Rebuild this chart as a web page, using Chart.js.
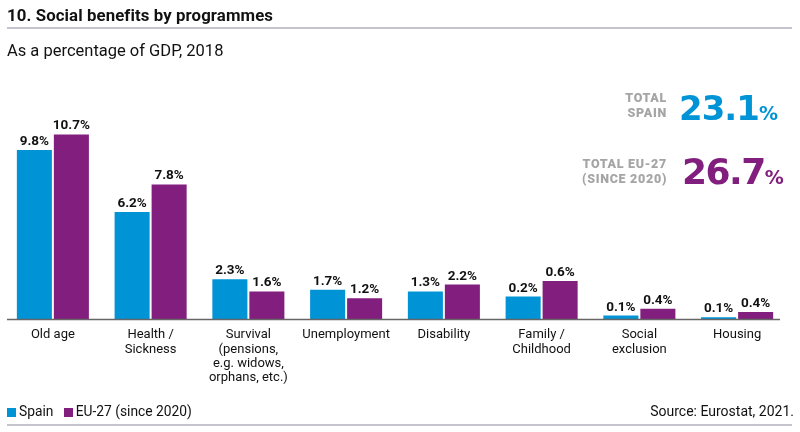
<!DOCTYPE html>
<html>
<head>
<meta charset="utf-8">
<script src="https://cdn.jsdelivr.net/npm/chart.js@4.4.0/dist/chart.umd.min.js"></script>
<style>
  html, body { margin: 0; padding: 0; background: #fff; }
  body { width: 800px; height: 432px; position: relative; overflow: hidden; font-family: Roboto, "Liberation Sans", sans-serif; color: #111; }
  #wrap { position: absolute; left: 0; top: 0; width: 800px; height: 432px; }
  .abs { position: absolute; white-space: nowrap; }
  #title { left: 7px; top: 5px; font-size: 16.8px; font-weight: 700; letter-spacing: 0.1px; }
  #rule1 { left: 7px; top: 27px; width: 785px; height: 2px; background: #c4c4cc; }
  #subtitle { left: 7px; top: 41px; font-size: 16.5px; }
  #rule2 { left: 7px; top: 424px; width: 785px; height: 2px; background: #c4c4cc; }
  .tlab { font-family: Roboto, sans-serif; font-weight: 900; color: #a5a5a5; font-size: 12.5px; letter-spacing: 0.7px; line-height: 15px; text-align: right; }
  .big { font-family: "DejaVu Sans", sans-serif; font-weight: 700; letter-spacing: -1px; }
  .pct { font-family: "DejaVu Sans", sans-serif; font-weight: 700; }
  #legend { left: 7px; top: 403px; font-size: 13.8px; }
  .sw { display: inline-block; width: 9px; height: 9px; vertical-align: -1px; margin-right: 3px; }
  #source { right: 6px; top: 403px; font-size: 14px; }
</style>
</head>
<body>
<div id="wrap"><canvas id="c" width="800" height="432"></canvas></div>
<div class="abs" id="title">10. Social benefits by programmes</div>
<div class="abs" id="rule1"></div>
<div class="abs" id="subtitle">As a percentage of GDP, 2018</div>

<div class="abs tlab" style="right:133px; top:90px;">TOTAL<br>SPAIN</div>
<div class="abs" style="left:679px; top:88px; color:#0093d6;"><span class="big" style="font-size:34px;">23.1</span><span class="pct" style="font-size:19px;">%</span></div>
<div class="abs tlab" style="right:133px; top:156px;">TOTAL EU-27<br>(SINCE 2020)</div>
<div class="abs" style="left:682px; top:151px; color:#821f7e;"><span class="big" style="font-size:36px; letter-spacing:-1.5px;">26.7</span><span class="pct" style="font-size:19px;">%</span></div>

<div class="abs" id="legend"><span class="sw" style="background:#0093d6"></span>Spain&nbsp;&nbsp;&nbsp;<span class="sw" style="background:#821f7e"></span>EU-27 (since 2020)</div>
<div class="abs" id="source">Source: Eurostat, 2021.</div>
<div class="abs" id="rule2"></div>

<script>
const categories = [
  ["Old age"],
  ["Health /", "Sickness"],
  ["Survival", "(pensions,", "e.g. widows,", "orphans, etc.)"],
  ["Unemployment"],
  ["Disability"],
  ["Family /", "Childhood"],
  ["Social", "exclusion"],
  ["Housing"]
];
const seriesNames = ["Spain", "EU-27 (since 2020)"];
// bar heights as drawn in the reference (% of GDP)
const spainValues = [9.8, 6.2, 2.3, 1.7, 1.6, 1.3, 0.2, 0.1];
const euValues    = [10.7, 7.8, 1.6, 1.2, 2.0, 2.2, 0.6, 0.4];
// value labels as printed in the reference
const spainLabels = ["9.8%", "6.2%", "2.3%", "1.7%", "1.3%", "0.2%", "0.1%", "0.1%"];
const euLabels    = ["10.7%", "7.8%", "1.6%", "1.2%", "2.2%", "0.6%", "0.4%", "0.4%"];

const BLUE = "#0093d6";
const PURPLE = "#821f7e";

const valueLabelPlugin = {
  id: "valueLabels",
  afterDatasetsDraw(chart) {
    const ctx = chart.ctx;
    const labelSets = [spainLabels, euLabels];
    ctx.save();
    ctx.font = "700 13.5px Roboto, sans-serif";
    ctx.fillStyle = "#111";
    ctx.textAlign = "center";
    ctx.textBaseline = "alphabetic";
    chart.data.datasets.forEach((ds, di) => {
      const meta = chart.getDatasetMeta(di);
      meta.data.forEach((bar, i) => {
        ctx.fillText(labelSets[di][i], bar.x, bar.y - 5);
      });
    });
    ctx.restore();
  }
};

const baselinePlugin = {
  id: "baseline",
  afterDatasetsDraw(chart) {
    const ctx = chart.ctx;
    const y = chart.scales.y.getPixelForValue(0);
    ctx.save();
    ctx.strokeStyle = "#666";
    ctx.lineWidth = 1.5;
    ctx.beginPath();
    ctx.moveTo(7, y + 0.5);
    ctx.lineTo(780, y + 0.5);
    ctx.stroke();
    ctx.restore();
  }
};

new Chart(document.getElementById("c"), {
  type: "bar",
  data: {
    labels: categories,
    datasets: [
      { label: seriesNames[0], data: spainValues, backgroundColor: BLUE },
      { label: seriesNames[1], data: euValues, backgroundColor: PURPLE }
    ]
  },
  options: {
    responsive: false,
    animation: false,
    devicePixelRatio: 1,
    layout: { padding: { top: 112, left: 4, right: 14, bottom: 0 } },
    categoryPercentage: 0.757,
    barPercentage: 0.947,
    plugins: { legend: { display: false }, tooltip: { enabled: false }, title: { display: false } },
    scales: {
      x: {
        grid: { display: false, drawTicks: false },
        border: { display: false },
        ticks: {
          color: "#111",
          font: { family: "Roboto, sans-serif", size: 13, lineHeight: 1.1 },
          padding: 9,
          maxRotation: 0,
          autoSkip: false
        },
        afterFit(scale) { scale.height = 113; }
      },
      y: {
        display: false,
        min: 0,
        max: 12
      }
    }
  },
  plugins: [valueLabelPlugin, baselinePlugin]
});
</script>
</body>
</html>
